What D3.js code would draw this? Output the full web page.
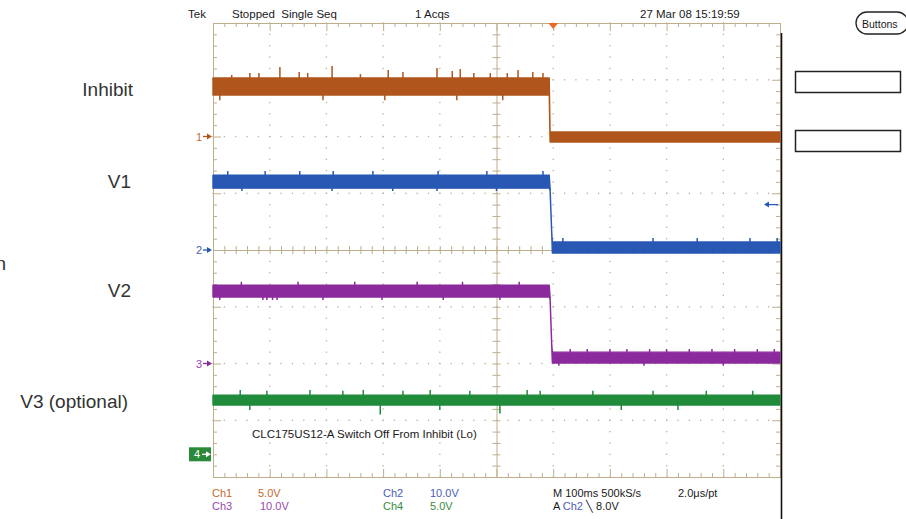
<!DOCTYPE html>
<html><head><meta charset="utf-8">
<script src="https://cdn.jsdelivr.net/npm/d3@7"></script>
<style>
html,body{margin:0;padding:0;background:#fff;}
svg{display:block;}
.scope{font-family:"Liberation Sans",Arial,sans-serif;}
</style></head><body>
<svg id="c" width="906" height="519"></svg>
<script>
// ================= DATA =================
const channelNames  = ["Ch1","Ch2","Ch3","Ch4"];
const channelLabels = ["Inhibit","V1","V2","V3 (optional)"];
const voltsPerDiv   = [5, 10, 10, 5];
const voltsText     = ["5.0V","10.0V","10.0V","5.0V"];
const headerTexts   = ["Tek","Stopped  Single Seq","1 Acqs","27 Mar 08 15:19:59"];
const noteText      = "CLC175US12-A Switch Off From Inhibit (Lo)";
const timebaseText  = "M 100ms 500kS/s";
const ptText        = "2.0\u03bcs/pt";
const triggerLevelV = 8.0;   // Ch2 trigger level
const triggerTimeDiv = 6.0;  // trigger position (div)

// trace envelopes: time in divisions, lo/hi in volts
const ch1Time = [0, 5.93, 5.945, 10];
const ch1Hi   = [5.15, 5.15, 0.40, 0.40];
const ch1Lo   = [3.66, 3.66, -0.48, -0.48];
const ch2Time = [0, 5.93, 5.945, 5.975, 5.985, 10];
const ch2Hi   = [13.2, 13.2, 10.9, 3.0, 1.41, 1.41];
const ch2Lo   = [10.9, 10.9, 10.5, 2.6, -0.53, -0.53];
const ch3Time = [0, 5.93, 5.945, 5.975, 5.985, 10];
const ch3Hi   = [13.8, 13.8, 11.7, 3.2, 2.0, 2.0];
const ch3Lo   = [11.7, 11.7, 11.3, 2.8, 0.1, 0.1];
const ch4Time = [0, 10];
const ch4Hi   = [5.2, 5.2];
const ch4Lo   = [4.35, 4.35];

// noise spikes: time (div), peak (V)
const ch1SpikeT = [0.33,0.65,0.81,1.18,1.52,1.67,2.10,3.09,3.35,3.95,4.22,4.36,4.89,5.19,5.38,5.64,5.82, 0.12,1.94,3.03,4.30,5.11, 2.6,4.6];
const ch1SpikeV = [5.42,5.59,5.59,6.12,5.68,5.59,6.21,5.86,5.68,6.04,5.77,5.95,5.59,5.59,5.86,5.68,5.59, 3.2,3.2,3.2,3.2,3.2, 5.5,5.6];
const ch2SpikeT = [0.26,0.92,1.53,2.12,2.82,3.97,4.83,5.82, 0.51,2.10,3.17,3.95,5.00, 6.17,7.76,8.54,9.47,9.95];
const ch2SpikeV = [13.9,13.9,13.9,13.9,13.9,13.9,13.9,13.9, 10.4,10.4,10.4,10.4,10.4, 2.1,2.1,2.1,2.1,2.1];
const ch3SpikeT = [0.12,0.88,0.95,1.05,1.13,1.94,2.98,4.06,5.06, 0.5,1.5,2.5,3.6,4.4,5.4, 6.3,6.6,7.0,7.3,7.7,8.0,8.4,8.8,9.2,9.6,9.9, 6.1,7.6,9.0];
const ch3SpikeV = [11.2,11.2,11.2,11.2,11.2,11.2,11.2,11.2,11.2, 14.4,14.4,14.4,14.4,14.4,14.4, 2.55,2.55,2.55,2.55,2.55,2.55,2.55,2.55,2.55,2.55,2.55, -0.4,-0.4,-0.4];
const ch4SpikeT = [0.48,0.95,1.71,2.29,2.65,3.35,3.83,4.53,5.54,5.77,6.7,7.76,8.7,9.52, 2.95,5.06,0.65,4.0,7.2,8.2];
const ch4SpikeV = [5.67,5.6,5.67,5.6,5.67,5.6,5.67,5.6,5.67,5.6,5.6,5.6,5.6,5.6, 3.5,3.6,3.9,3.9,3.9,3.9];

// ================= LAYOUT / STYLE =================
const gx0 = 213, gx1 = 780, gy0 = 23, gy1 = 477;
const chPosDiv = [2, 0, -2, -3.6];
const chColor  = ["#b0561c", "#2858b4", "#8b2a9c", "#1f8b3b"];
const txtColor = ["#c26a32", "#4a5cb8", "#9a48b0", "#3a8c3a"];
const tan = "#bfae8c";

const svg = d3.select("#c");
svg.append("rect").attr("width",906).attr("height",519).attr("fill","#fff");

const x = d3.scaleLinear().domain([0,10]).range([gx0,gx1]);
const yDiv = d3.scaleLinear().domain([-4,4]).range([gy1,gy0]);
const yCh = voltsPerDiv.map((v,i)=> d3.scaleLinear()
  .domain([(-4-chPosDiv[i])*v, (4-chPosDiv[i])*v]).range([gy1,gy0]));

const g = svg.append("g").attr("class","scope");

// dotted grid
const minor = d3.range(0, 10.001, 0.2);
const minorY = d3.range(-4, 4.001, 0.2);
const dots = [];
[1,2,3,4,6,7,8,9].forEach(i=> minorY.forEach(v=> dots.push([x(i), yDiv(v)])));
[-3,-2,-1,1,2,3].forEach(j=> minor.forEach(t=> dots.push([x(t), yDiv(j)])));
g.append("g").selectAll("rect").data(dots).join("rect")
  .attr("x",d=>d[0]-0.6).attr("y",d=>d[1]-0.6).attr("width",1.3).attr("height",1.3)
  .attr("fill","#b8b0a0");

// center axes via d3 axes
const hAxis = g.append("g").attr("transform",`translate(0,${yDiv(0)})`)
  .call(d3.axisBottom(x).tickValues(minor).tickFormat("").tickSizeOuter(0));
hAxis.select(".domain").attr("stroke",tan);
hAxis.selectAll(".tick line").attr("stroke",tan).attr("y1",-4).attr("y2",4);
const vAxis = g.append("g").attr("transform",`translate(${x(5)},0)`)
  .call(d3.axisLeft(yDiv).tickValues(minorY).tickFormat("").tickSizeOuter(0));
vAxis.select(".domain").attr("stroke",tan);
vAxis.selectAll(".tick line").attr("stroke",tan).attr("x1",-4).attr("x2",4);

// border with inward ticks
const topAx = g.append("g").attr("transform",`translate(0,${gy0})`)
  .call(d3.axisBottom(x).tickValues(minor).tickFormat("").tickSizeOuter(0).tickSize(4));
topAx.selectAll(".tick line").attr("stroke",tan).attr("y2",(d)=> Math.abs(d-Math.round(d))<1e-6?8:4);
topAx.select(".domain").attr("stroke",tan);
const botAx = g.append("g").attr("transform",`translate(0,${gy1})`)
  .call(d3.axisTop(x).tickValues(minor).tickFormat("").tickSizeOuter(0).tickSize(4));
botAx.selectAll(".tick line").attr("stroke",tan).attr("y2",(d)=> Math.abs(d-Math.round(d))<1e-6?-8:-4);
botAx.select(".domain").attr("stroke",tan);
const leftAx = g.append("g").attr("transform",`translate(${gx0},0)`)
  .call(d3.axisRight(yDiv).tickValues(minorY).tickFormat("").tickSizeOuter(0).tickSize(4));
leftAx.selectAll(".tick line").attr("stroke",tan).attr("x2",(d)=> Math.abs(d-Math.round(d))<1e-6?8:4);
leftAx.select(".domain").attr("stroke",tan);
const rightAx = g.append("g").attr("transform",`translate(${gx1},0)`)
  .call(d3.axisLeft(yDiv).tickValues(minorY).tickFormat("").tickSizeOuter(0).tickSize(4));
rightAx.selectAll(".tick line").attr("stroke",tan).attr("x2",(d)=> Math.abs(d-Math.round(d))<1e-6?-8:-4);
rightAx.select(".domain").attr("stroke",tan);
// black separator of the right panel
g.append("line").attr("x1",gx1+1.5).attr("x2",gx1+1.5).attr("y1",33).attr("y2",519)
  .attr("stroke","#111").attr("stroke-width",1.6);

// traces
const traces = [
  {t:ch1Time, hi:ch1Hi, lo:ch1Lo, st:ch1SpikeT, sv:ch1SpikeV},
  {t:ch2Time, hi:ch2Hi, lo:ch2Lo, st:ch2SpikeT, sv:ch2SpikeV},
  {t:ch3Time, hi:ch3Hi, lo:ch3Lo, st:ch3SpikeT, sv:ch3SpikeV},
  {t:ch4Time, hi:ch4Hi, lo:ch4Lo, st:ch4SpikeT, sv:ch4SpikeV}
];
function midAt(tr, t){
  // band middle via the scale of the nearest segment
  let k = d3.bisectRight(tr.t, t) - 1; k = Math.max(0, Math.min(tr.t.length-2, k));
  return (tr.hi[k+1]+tr.lo[k+1])/2 * 0 + (tr.hi[k] + tr.lo[k]) / 2;
}
[3,2,1,0].forEach(i=>{
  const tr = traces[i], ys = yCh[i];
  const pts = tr.t.map((t,k)=>({t, hi:tr.hi[k], lo:tr.lo[k]}));
  const area = d3.area().x(d=>x(d.t)).y0(d=>ys(d.lo)).y1(d=>ys(d.hi));
  g.append("path").attr("d",area(pts)).attr("fill",chColor[i])
    .attr("stroke",chColor[i]).attr("stroke-width",1.4).attr("stroke-linejoin","round");
  const sp = tr.st.map((t,k)=>({t, v:tr.sv[k]}));
  g.append("g").selectAll("line").data(sp).join("line")
    .attr("x1",d=>x(d.t)).attr("x2",d=>x(d.t))
    .attr("y1",d=>ys(midAt(tr,d.t))).attr("y2",d=>ys(d.v))
    .attr("stroke",chColor[i]).attr("stroke-width",1.5);
});

// channel ground markers
[0,1,2].forEach(i=>{
  const yy = yCh[i](0);
  g.append("text").attr("x",196).attr("y",yy+4).attr("font-size",11).attr("fill",txtColor[i]).text(String(i+1));
  g.append("line").attr("x1",203).attr("x2",209).attr("y1",yy).attr("y2",yy).attr("stroke",chColor[i]).attr("stroke-width",1.3);
  g.append("path").attr("d",`M${212},${yy}L${207},${yy-3}L${207},${yy+3}Z`).attr("fill",chColor[i]);
});
{
  const yy = yCh[3](0);
  g.append("rect").attr("x",189).attr("y",yy-7).attr("width",22).attr("height",14).attr("fill","#2a8a3a");
  g.append("text").attr("x",194).attr("y",yy+4).attr("font-size",11).attr("fill","#fff").text("4");
  g.append("line").attr("x1",202).attr("x2",207).attr("y1",yy).attr("y2",yy).attr("stroke","#fff").attr("stroke-width",1.3);
  g.append("path").attr("d",`M${211},${yy}L${206},${yy-3}L${206},${yy+3}Z`).attr("fill","#fff");
}
// trigger position marker
g.append("path").attr("d",`M${x(triggerTimeDiv)-5},${gy0}L${x(triggerTimeDiv)+5},${gy0}L${x(triggerTimeDiv)},${gy0+6}Z`).attr("fill","#ea6a24");
// trigger level arrow (Ch2)
{
  const yy = yCh[1](triggerLevelV);
  g.append("line").attr("x1",768).attr("x2",778).attr("y1",yy).attr("y2",yy).attr("stroke",chColor[1]).attr("stroke-width",1.3);
  g.append("path").attr("d",`M${764},${yy}L${769},${yy-3}L${769},${yy+3}Z`).attr("fill",chColor[1]);
}

// header texts
const hdrX = [188, 232, 415, 640];
headerTexts.forEach((s,k)=> g.append("text").attr("x",hdrX[k]).attr("y",18).attr("font-size",11.5)
  .attr("fill","#1a1a1a").attr("xml:space","preserve").style("white-space","pre").text(s));

// note
g.append("text").attr("x",252).attr("y",438).attr("font-size",11.5).attr("fill","#1a1a1a").text(noteText);

// bottom status
const chTxtX = [212, 383, 212, 383], chTxtY = [497, 497, 510, 510], vTxtX = [258, 430, 260, 430];
[0,1,2,3].forEach(i=>{
  g.append("text").attr("x",chTxtX[i]).attr("y",chTxtY[i]).attr("font-size",11).attr("fill",txtColor[i]).text(channelNames[i]);
  g.append("text").attr("x",vTxtX[i]).attr("y",chTxtY[i]).attr("font-size",11).attr("fill",txtColor[i]).text(voltsText[i]);
});
g.append("text").attr("x",553).attr("y",497).attr("font-size",11).attr("fill","#1a1a1a").text(timebaseText);
g.append("text").attr("x",678).attr("y",497).attr("font-size",11).attr("fill","#1a1a1a").text(ptText);
const trg = g.append("text").attr("x",553).attr("y",510).attr("font-size",11).attr("fill","#1a1a1a");
trg.append("tspan").text("A ");
trg.append("tspan").attr("fill",txtColor[1]).text(channelNames[1]);
trg.append("tspan").text("  \u2572 ");
trg.append("tspan").text(triggerLevelV.toFixed(1)+"V");

// right panel
g.append("rect").attr("x",856).attr("y",12).attr("width",52).attr("height",22).attr("rx",11)
  .attr("fill","none").attr("stroke","#222").attr("stroke-width",1.3);
g.append("text").attr("x",862).attr("y",28).attr("font-size",10.5).attr("fill","#1a1a1a").text("Buttons");
g.append("rect").attr("x",795.5).attr("y",71.5).attr("width",105).attr("height",21).attr("fill","none").attr("stroke","#222").attr("stroke-width",1.5);
g.append("rect").attr("x",795.5).attr("y",130.5).attr("width",105).attr("height",21).attr("fill","none").attr("stroke","#222").attr("stroke-width",1.5);

// left labels
const lab = svg.append("g").attr("font-family","'Liberation Sans',Arial,sans-serif").attr("font-size",19).attr("fill","#333");
const labY = [96, 188, 297, 408], labX = [133, 131, 131, 128];
channelLabels.forEach((s,k)=> lab.append("text").attr("x",labX[k]).attr("y",labY[k]).attr("text-anchor","end").text(s));
lab.append("text").attr("x",6).attr("y",270).attr("text-anchor","end").text("n");
</script>
</body></html>
